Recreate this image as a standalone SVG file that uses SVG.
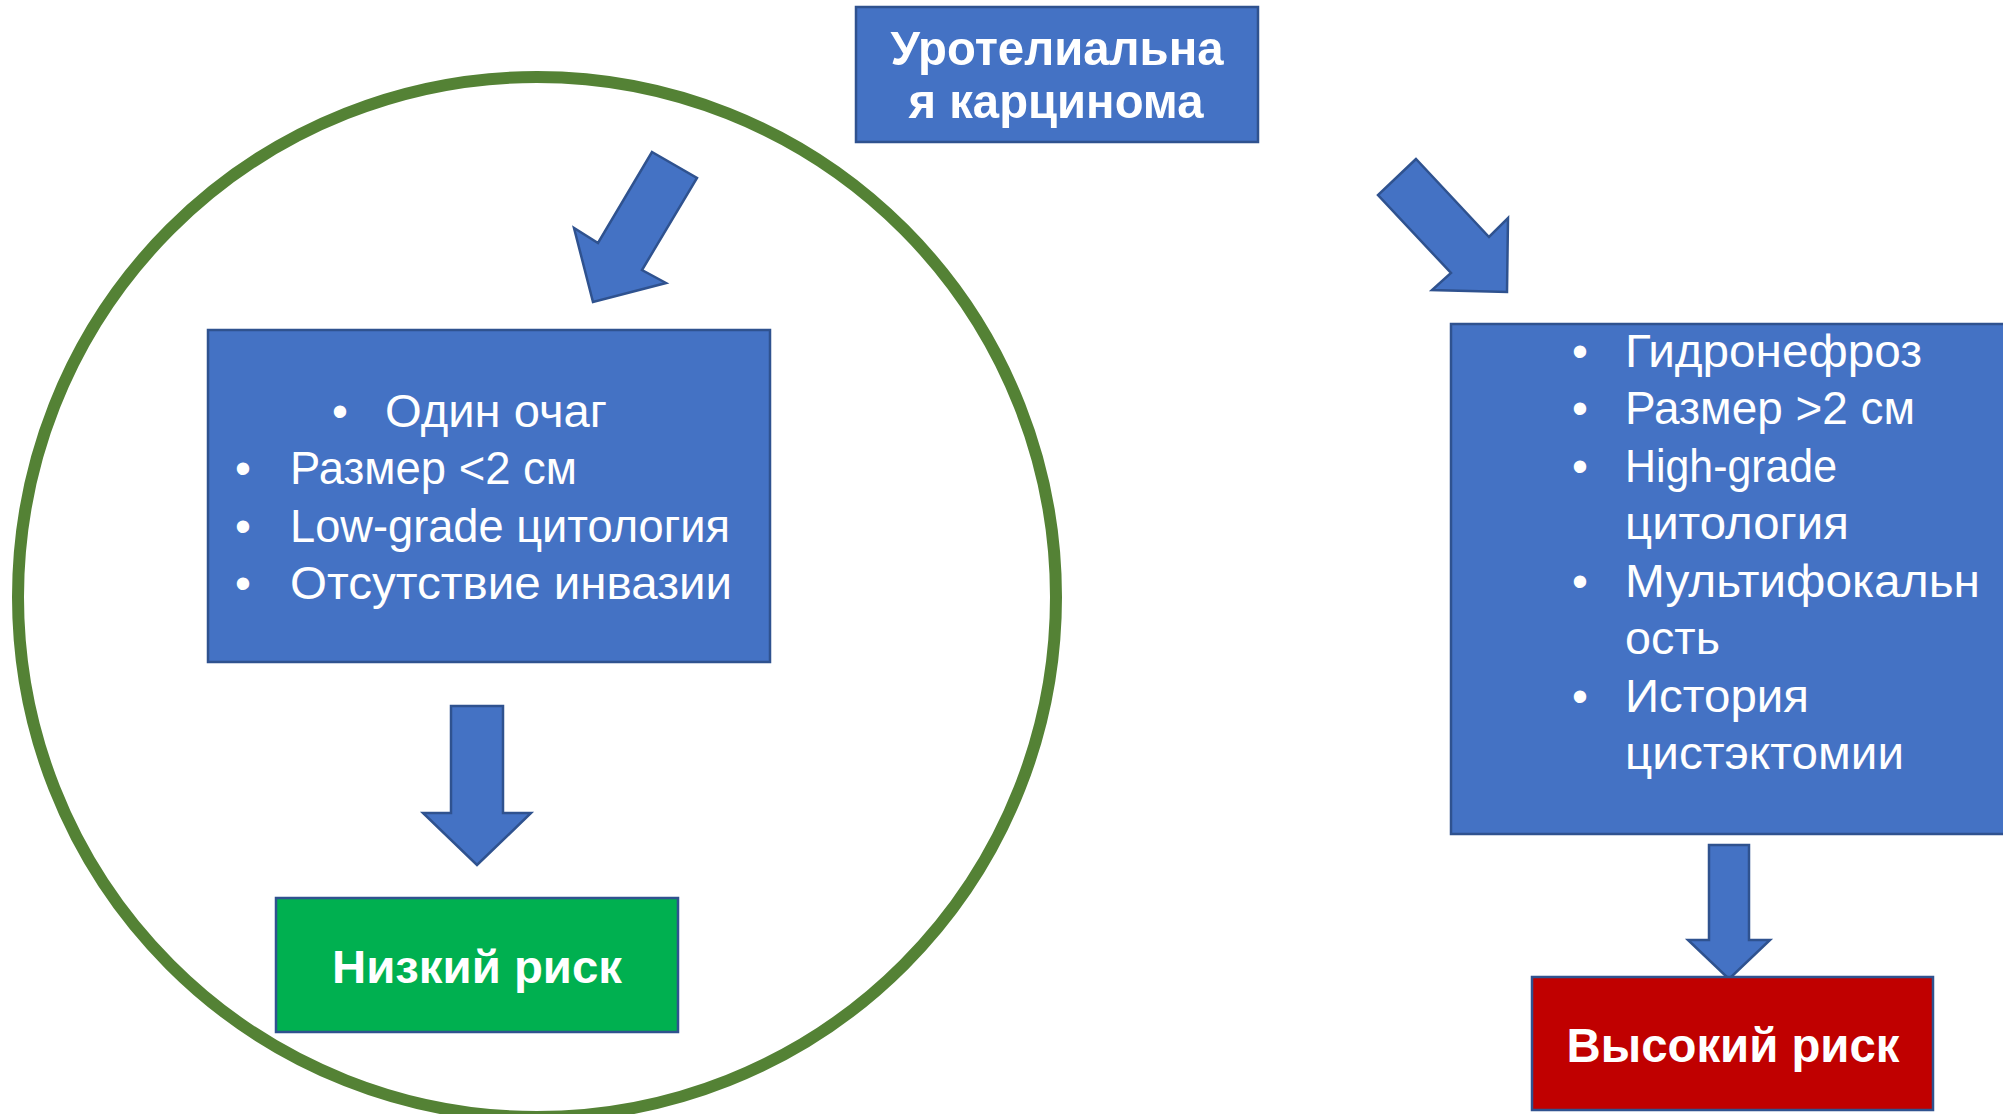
<svg xmlns="http://www.w3.org/2000/svg" width="2003" height="1114" viewBox="0 0 2003 1114">
<style>
.box{fill:#4472C4;stroke:#2F528F;stroke-width:2.5}
.arrow{fill:#4472C4;stroke:#2F528F;stroke-width:2.5;stroke-linejoin:miter}
.t{font-family:"Liberation Sans",Arial,sans-serif;fill:#FFFFFF}
.b{font-weight:bold;text-anchor:middle}
.li{font-size:45.5px}
.bul{font-size:45.5px;text-anchor:middle}
</style>
<rect width="2003" height="1114" fill="#FFFFFF"/>
<g id="circle">
<ellipse cx="537" cy="597" rx="519" ry="520" fill="none" stroke="#548235" stroke-width="12"/>
</g>
<g id="connectors">
<polygon class="arrow" points="652,152 697,178 642,270 666,283 593,302 574,228 598,243"/>
<polygon class="arrow" points="1416,159 1378,195 1451,273 1432,290 1507,292 1508,218 1489,237"/>
<polygon class="arrow" points="451,706 503,706 503,813 531,813 477,865 423,813 451,813"/>
<polygon class="arrow" points="1709,845 1749,845 1749,940 1770,940 1729,979 1688,940 1709,940"/>
</g>
<g id="title">
<rect class="box" x="856" y="7" width="402" height="135"/>
<text class="t b" x="1057" y="65" font-size="49" textLength="333" lengthAdjust="spacingAndGlyphs">Уротелиальна</text>
<text class="t b" x="1056" y="118" font-size="49" textLength="295" lengthAdjust="spacingAndGlyphs">я карцинома</text>
</g>
<g id="low-criteria">
<rect class="box" x="208" y="330" width="562" height="332"/>
<text class="t bul" x="340" y="427">•</text>
<text class="t li" x="385" y="427" textLength="222" lengthAdjust="spacingAndGlyphs">Один очаг</text>
<text class="t bul" x="243" y="484">•</text>
<text class="t li" x="290" y="484" textLength="287" lengthAdjust="spacingAndGlyphs">Размер &lt;2 см</text>
<text class="t bul" x="243" y="542">•</text>
<text class="t li" x="290" y="542" textLength="440" lengthAdjust="spacingAndGlyphs">Low-grade цитология</text>
<text class="t bul" x="243" y="599">•</text>
<text class="t li" x="290" y="599" textLength="442" lengthAdjust="spacingAndGlyphs">Отсутствие инвазии</text>
</g>
<g id="high-criteria">
<rect class="box" x="1451" y="324" width="600" height="510"/>
<text class="t bul" x="1580" y="367">•</text>
<text class="t li" x="1625" y="367" textLength="297" lengthAdjust="spacingAndGlyphs">Гидронефроз</text>
<text class="t bul" x="1580" y="424">•</text>
<text class="t li" x="1625" y="424" textLength="290" lengthAdjust="spacingAndGlyphs">Размер &gt;2 см</text>
<text class="t bul" x="1580" y="482">•</text>
<text class="t li" x="1625" y="482" textLength="212" lengthAdjust="spacingAndGlyphs">High-grade</text>
<text class="t li" x="1625" y="539" textLength="224" lengthAdjust="spacingAndGlyphs">цитология</text>
<text class="t bul" x="1580" y="597">•</text>
<text class="t li" x="1625" y="597" textLength="355" lengthAdjust="spacingAndGlyphs">Мультифокальн</text>
<text class="t li" x="1625" y="654" textLength="95" lengthAdjust="spacingAndGlyphs">ость</text>
<text class="t bul" x="1580" y="712">•</text>
<text class="t li" x="1625" y="712" textLength="184" lengthAdjust="spacingAndGlyphs">История</text>
<text class="t li" x="1625" y="769" textLength="279" lengthAdjust="spacingAndGlyphs">цистэктомии</text>
</g>
<g id="low-risk">
<rect x="276" y="898" width="402" height="134" fill="#00B050" stroke="#2F528F" stroke-width="2.5"/>
<text class="t b" x="477" y="983" font-size="46" textLength="290" lengthAdjust="spacingAndGlyphs">Низкий риск</text>
</g>
<g id="high-risk">
<rect x="1532" y="977" width="401" height="133" fill="#C00000" stroke="#2F528F" stroke-width="2.5"/>
<text class="t b" x="1733" y="1062" font-size="48" textLength="333" lengthAdjust="spacingAndGlyphs">Высокий риск</text>
</g>
</svg>
